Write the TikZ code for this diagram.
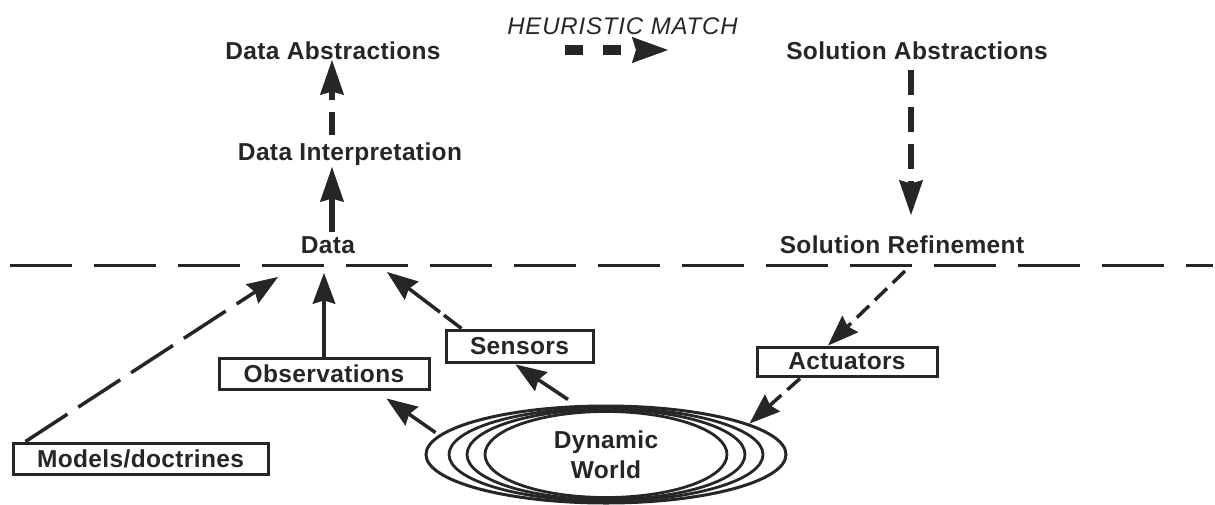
\documentclass[tikz,border=0pt]{standalone}
\usepackage{fontspec}
\setmainfont{Liberation Sans}[LetterSpace=1.5]
\newfontfamily\hmfont{Liberation Sans}[LetterSpace=3.5]
\usetikzlibrary{arrows.meta,calc,shapes.geometric}
\definecolor{ink}{HTML}{262626}
\begin{document}
\begin{tikzpicture}[x=1pt,y=-1pt,
  lblfont/.style={font=\fontsize{24.5}{30}\selectfont\bfseries},
  lbl/.style={lblfont, text=ink, inner sep=0pt, anchor=base},
  boxnode/.style={lblfont, text=ink, draw=ink, line width=3pt, inner sep=0pt, rectangle},
  bighead/.style={-{Stealth[length=35pt,width=24pt,inset=3.5pt,line width=1pt]}},
  lowhead/.style={-{Stealth[length=31pt,width=23pt,inset=3.5pt,line width=1pt]}},
  toparrow/.style={bighead, draw=ink, line width=5.5pt},
  lowarrow/.style={lowhead, draw=ink, line width=3.5pt},
  heur/.style={-{Stealth[length=36pt,width=26pt,inset=4pt,line width=1pt]}, draw=ink, line width=10pt, dash pattern=on 18pt off 20pt},
  divider/.style={draw=ink, line width=3pt, dash pattern=on 62pt off 22pt}
]
\useasboundingbox (0,0) rectangle (1215,504);

% labels
\node[lbl] (dabs) at (333,59) {Data Abstractions};
\node[lbl, font=\fontsize{24}{30}\selectfont\hmfont\itshape] (hm) at (622.5,34) {HEURISTIC MATCH};
\node[lbl] (sabs) at (917,59) {Solution Abstractions};
\node[lbl] (dint) at (350,160) {Data Interpretation};
\node[lbl] (data) at (328,253) {Data};
\node[lbl] (sref) at (902,253) {Solution Refinement};

% boxes
\node[boxnode, minimum width=255pt, minimum height=31pt] (models) at (140.5,458.5) {Models/doctrines};
\node[boxnode, minimum width=210pt, minimum height=31pt] (obs) at (324,373.5) {Observations};
\node[boxnode, minimum width=147pt, minimum height=32pt] (sens) at (519.5,346) {Sensors};
\node[boxnode, minimum width=180pt, minimum height=29pt] (act) at (847,361.5) {Actuators};

% dynamic world
\node[ellipse, draw=ink, line width=3pt, minimum width=360pt, minimum height=97pt, inner sep=0pt,
      lblfont, text=ink, align=center] (world) at (606,454.5) {\raisebox{-3pt}{Dynamic}\\\raisebox{-3pt}{World}};
\foreach \rx/\ry in {157/46.5, 139/45, 121/43}
  \draw[ink, line width=2.8pt] (world.center) ellipse [x radius=\rx, y radius=\ry];

% divider
\draw[divider] (10,265.5) -- (1213,265.5);

% upper connectors
\draw[toparrow] ([shift={(4,-21)}]data.base) -- ([shift={(-18,7)}]dint.base);
\draw[toparrow, dash pattern=on 23pt off 12pt on 60pt off 0pt] ([shift={(-18,-25)}]dint.base) -- ([shift={(-1,1)}]dabs.base);
\draw[toparrow, dash pattern=on 25pt off 12pt] ([shift={(-6,11)}]sabs.base) -- ([shift={(9,-38)}]sref.base);
\draw[heur] ($(dabs.base)!0.3973!(sabs.base)+(0,-9)$) -- ($(dabs.base)!0.5736!(sabs.base)+(0,-9)$);

% lower connectors
\draw[lowarrow, dash pattern=on 50pt off 13pt] ([shift={(14,0)}]models.north west) -- ([shift={(-50,24)}]data.base);
\draw[lowarrow] (obs.north) -- ([shift={(-4,20)}]data.base);
\draw[lowarrow, dash pattern=on 22pt off 5pt on 200pt off 0pt] ([shift={(17,0)}]sens.north west) -- ([shift={(59,19)}]data.base);
\draw[lowarrow] ([shift={(-38,-5)}]world.north) -- ([shift={(-4,1)}]sens.south);
\draw[lowarrow] ([shift={(11,-22)}]world.west) -- ([shift={(-44,8)}]obs.south east);
\draw[lowarrow, dash pattern=on 17pt off 8pt] ([shift={(3,18)}]sref.base) -- ([shift={(-19,0)}]act.north);
\draw[lowarrow, dash pattern=on 17pt off 8pt] ([shift={(-47,1)}]act.south) -- ([shift={(-38,-31)}]world.east);
\end{tikzpicture}
\end{document}
